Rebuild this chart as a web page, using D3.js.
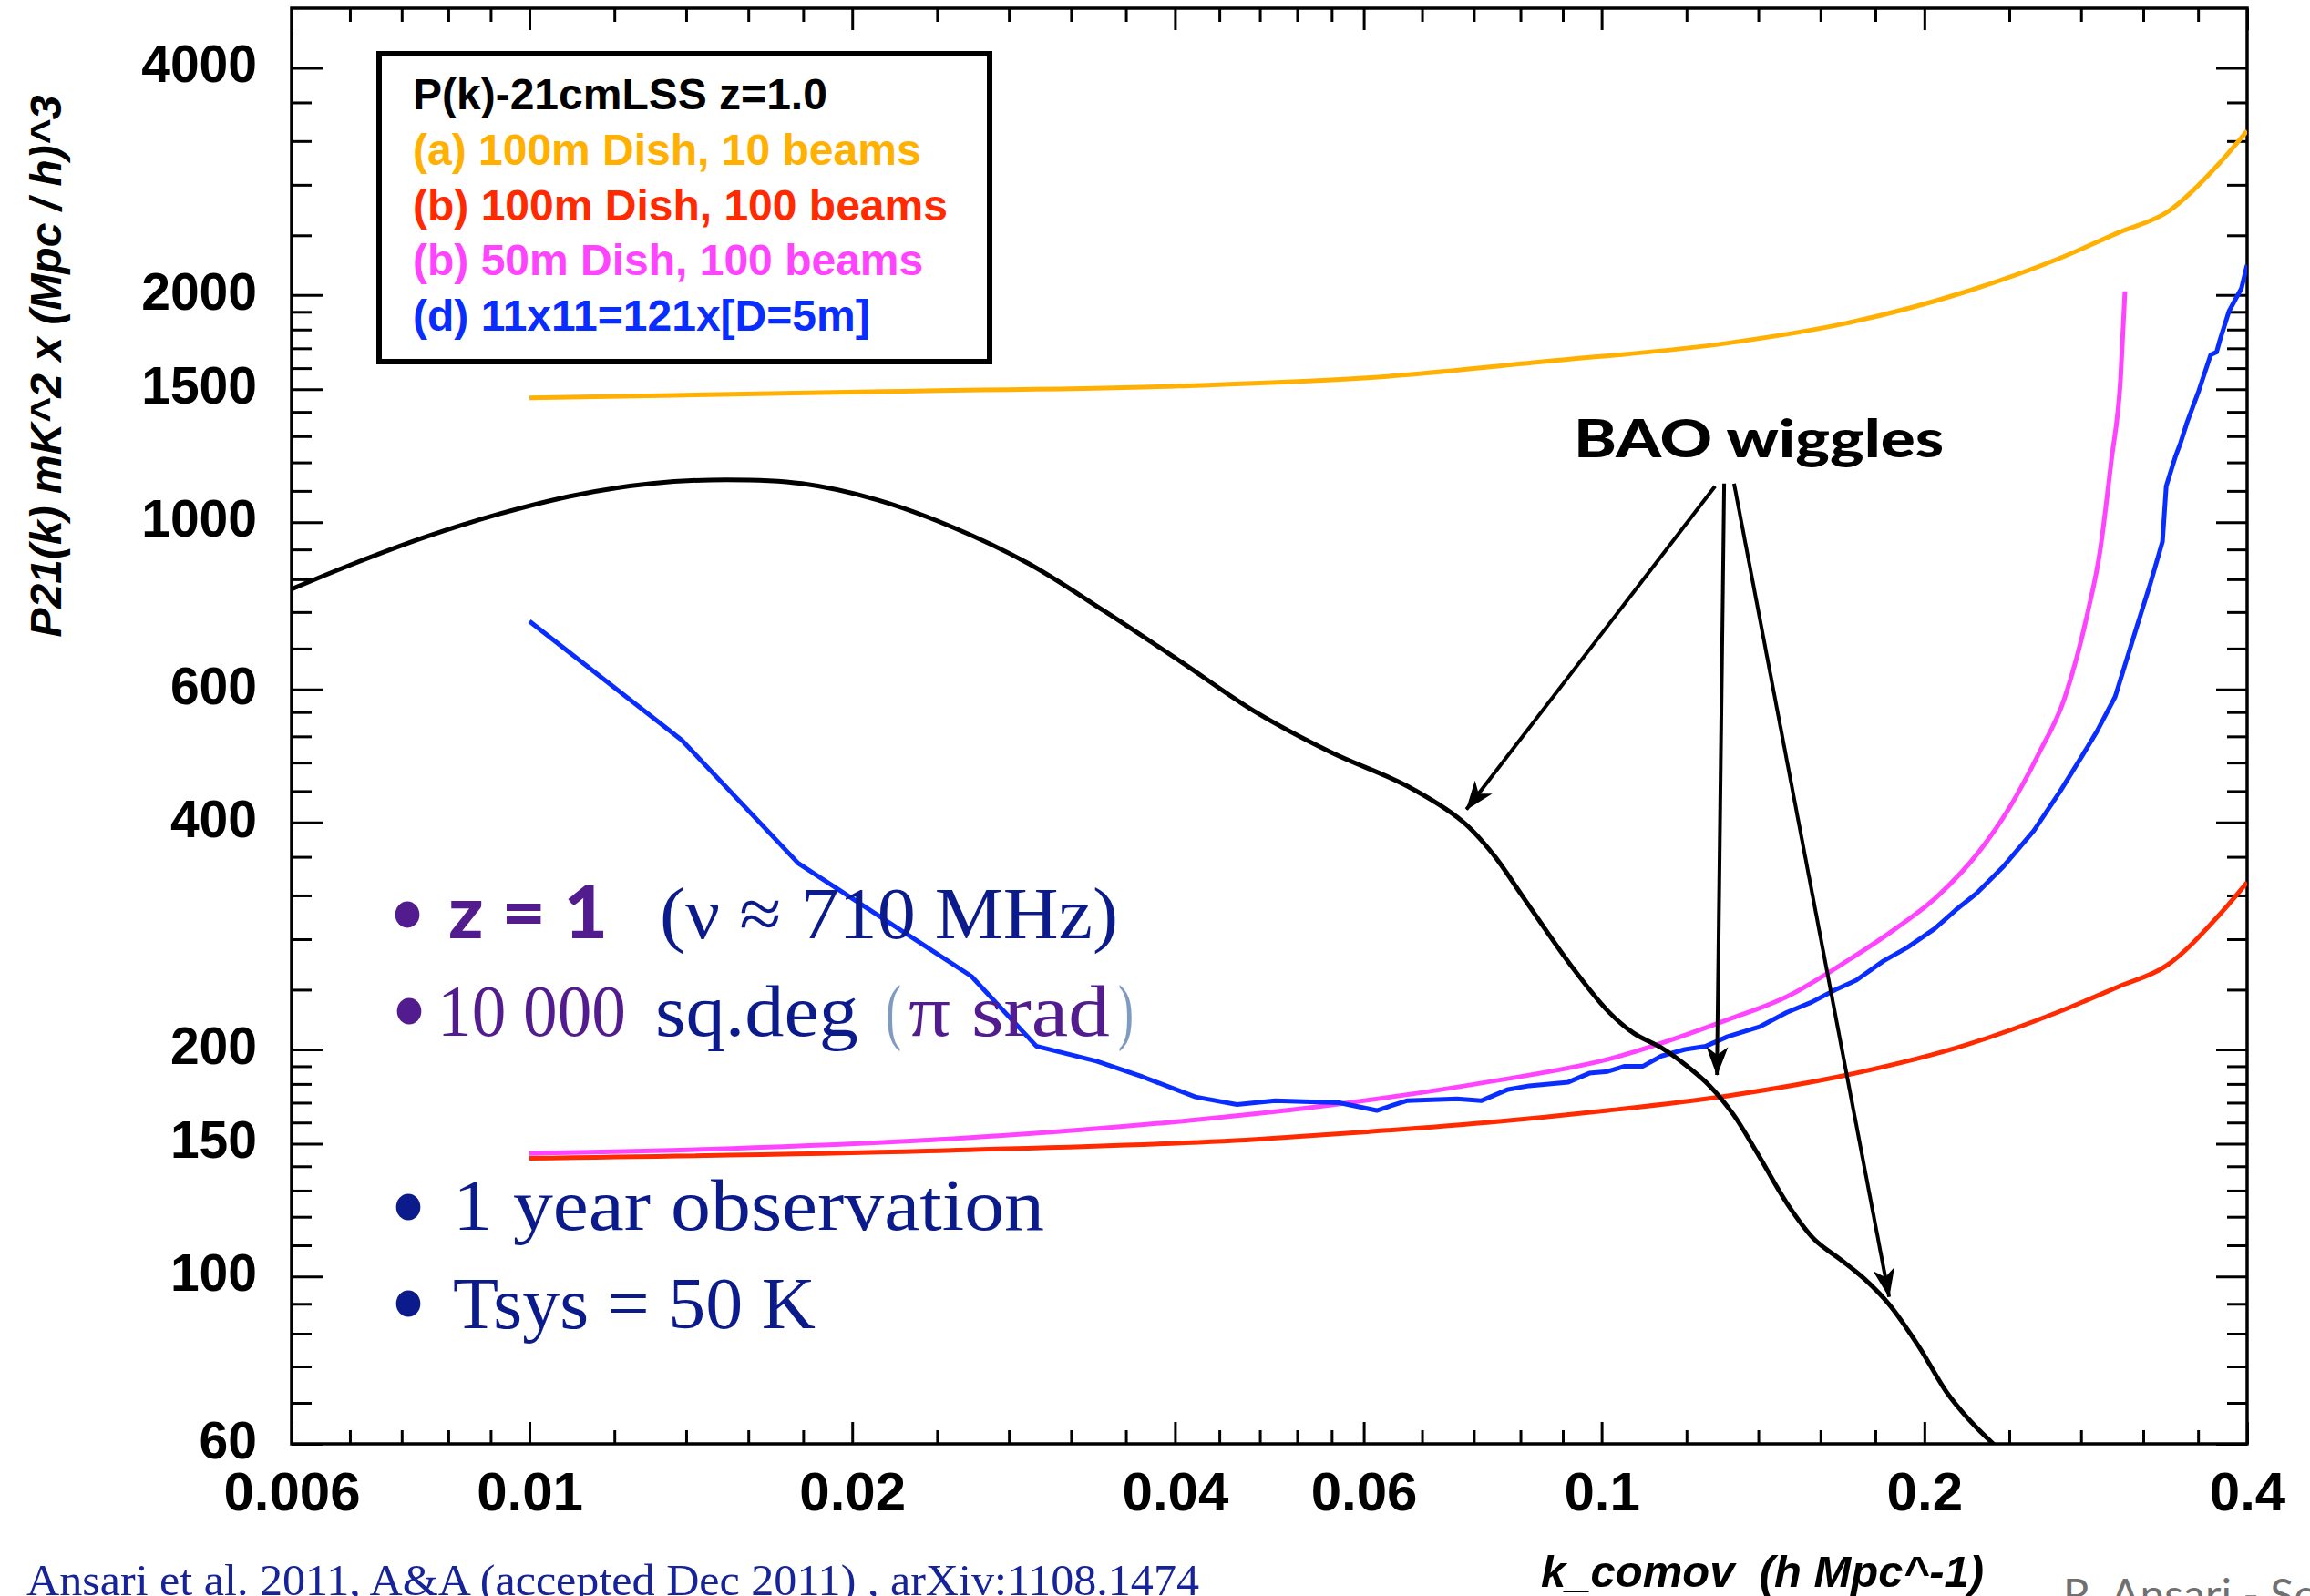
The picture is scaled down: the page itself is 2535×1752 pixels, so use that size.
<!DOCTYPE html>
<html>
<head>
<meta charset="utf-8">
<script src="https://cdn.jsdelivr.net/npm/d3@7"></script>
<style>
  html, body { margin: 0; padding: 0; background: #ffffff; }
  svg { display: block; }
</style>
</head>
<body>
<svg id="chart" width="2535" height="1752"></svg>
<script>
// ---------------- DATA ----------------
// Theory P(k) (black curve)
const theoryK = [0.006, 0.00679, 0.00799, 0.00939, 0.01105, 0.0130, 0.01526, 0.01795, 0.02112, 0.02484, 0.02922, 0.03438, 0.04045, 0.04757, 0.05596, 0.06583, 0.0742, 0.0792, 0.0844, 0.0937, 0.1013, 0.1072, 0.1137, 0.1196, 0.1261, 0.1327, 0.1396, 0.1489, 0.1579, 0.1675, 0.1762, 0.1857, 0.1978, 0.2097, 0.2193, 0.2313, 0.245];
const theoryP = [815, 876, 955, 1026, 1086, 1125, 1138, 1125, 1070, 984, 881, 762, 654, 560, 495, 447, 401, 363, 319, 258, 225, 210, 201, 191, 179, 164, 146, 125, 112, 105, 99, 91.6, 80.6, 70.3, 65, 60.2, 56];

// (a) 100m Dish, 10 beams (orange)
const dishA_K = [0.01, 0.0214, 0.0404, 0.0604, 0.089, 0.1311, 0.1694, 0.2193, 0.2662, 0.303, 0.338, 0.3772, 0.4];
const dishA_P = [1461, 1490, 1515, 1553, 1634, 1727, 1836, 2023, 2231, 2418, 2584, 2994, 3301];

// (b) 100m Dish, 100 beams (red)
const dishB_K = [0.01, 0.0248, 0.0476, 0.0604, 0.0782, 0.1013, 0.1311, 0.1694, 0.2193, 0.2662, 0.303, 0.336, 0.3772, 0.4];
const dishB_P = [143.5, 147, 152, 155.5, 160, 166, 173.6, 185, 203, 224, 242, 258, 302, 333];

// (b) 50m Dish, 100 beams (magenta)
const dishC_K = [0.01, 0.01526, 0.02484, 0.04045, 0.05596, 0.0782, 0.1013, 0.1311, 0.1489, 0.1694, 0.1879, 0.2056, 0.225, 0.240, 0.256, 0.270, 0.2841, 0.2914, 0.2989, 0.3048, 0.3077];
const dishC_P = [145.6, 147.7, 152.3, 160.6, 168.8, 181, 194, 219, 235, 262, 289, 319, 366, 418, 495, 582, 760, 908, 1210, 1549, 2023];

// (d) 11x11=121x[D=5m] (blue)
const arrayD_K = [0.01, 0.01387, 0.01781, 0.02584, 0.0297, 0.0338, 0.0373, 0.0418, 0.0457, 0.0496, 0.0569, 0.0617, 0.0658, 0.0733, 0.0772, 0.0818, 0.0856, 0.0931, 0.0974, 0.1013, 0.1051, 0.1093, 0.1137, 0.1196, 0.1251, 0.1311, 0.1406, 0.1489, 0.157, 0.1652, 0.1728, 0.1832, 0.1928, 0.2044, 0.2139, 0.2237, 0.2372, 0.253, 0.2678, 0.2802, 0.2897, 0.3013, 0.3151, 0.3251, 0.3335, 0.3362, 0.3428, 0.3468, 0.3516, 0.3606, 0.3699, 0.3746, 0.3772, 0.3847, 0.390, 0.3951, 0.4];
const arrayD_P = [739, 514, 353, 250, 202, 193, 184, 173, 169, 171, 170, 166, 171, 172, 171, 177, 179, 181, 186, 187, 190, 190, 196, 200, 202, 208, 214.5, 224, 231, 240, 247, 262, 273, 289, 306, 322, 350, 390, 440, 488, 528, 587, 721, 831, 942, 1116, 1220, 1275, 1356, 1494, 1666, 1680, 1741, 1903, 1973, 2040, 2193];

// Axis ticks
const xMajorTicks = [0.006, 0.01, 0.02, 0.04, 0.06, 0.1, 0.2, 0.4];
const xTickLabels = ["0.006", "0.01", "0.02", "0.04", "0.06", "0.1", "0.2", "0.4"];
const xMinorTicks = [0.0068, 0.0076, 0.0084, 0.0092, 0.012, 0.014, 0.016, 0.018, 0.024, 0.028, 0.032, 0.036, 0.044, 0.048, 0.052, 0.056, 0.068, 0.076, 0.084, 0.092, 0.12, 0.14, 0.16, 0.18, 0.24, 0.28, 0.32, 0.36];
const yMajorTicks = [60, 100, 150, 200, 400, 600, 1000, 1500, 2000, 4000];
const yTickLabels = ["60", "100", "150", "200", "400", "600", "1000", "1500", "2000", "4000"];
const yMinorTicks = [68, 76, 84, 92, 110, 120, 130, 140, 160, 170, 180, 190, 240, 280, 320, 360, 440, 480, 520, 560, 680, 760, 840, 920, 1100, 1200, 1300, 1400, 1600, 1700, 1800, 1900, 2400, 2800, 3200, 3600];

// Legend entries
const legendTitle = "P(k)-21cmLSS z=1.0";
const legendLabels = ["(a) 100m Dish, 10 beams", "(b) 100m Dish, 100 beams", "(b) 50m Dish, 100 beams", "(d) 11x11=121x[D=5m]"];

// Annotation arrows (data coordinates)
const arrowFromK = [0.1276, 0.1301, 0.1329];
const arrowFromP = [1116, 1125, 1125];
const arrowToK = [0.0748, 0.1281, 0.1854];
const arrowToP = [416, 185, 94];

// ---------------- LAYOUT ----------------
const W = 2535, H = 1752;
const L = 320, R = 2466, T = 9, B = 1585;
const colors = { theory: "#000000", a: "#ffb000", b: "#ff2a00", c: "#ff44ff", d: "#0a2dff" };
const purple = "#521c8f", navy = "#0c1b8c", lightBlue = "#7f9bc2";

const svg = d3.select("#chart");
svg.append("rect").attr("width", W).attr("height", H).attr("fill", "#ffffff");

const x = d3.scaleLog().domain([0.006, 0.4]).range([L, R]);
const y = d3.scaleLog().domain([60, 4800]).range([B, T]);

const defs = svg.append("defs");
defs.append("clipPath").attr("id", "plotClip")
  .append("rect").attr("x", L).attr("y", T).attr("width", R - L).attr("height", B - T);
defs.append("marker").attr("id", "arrowHead")
  .attr("viewBox", "0 0 32 24").attr("refX", 31).attr("refY", 12)
  .attr("markerWidth", 32).attr("markerHeight", 24)
  .attr("markerUnits", "userSpaceOnUse").attr("orient", "auto")
  .append("path").attr("d", "M0,0 L32,12 L0,24 L9,12 Z").attr("fill", "#000");

// ---------------- AXES ----------------
const tickFont = "'Liberation Sans', Arial, Helvetica, sans-serif";
function styleAxis(g) {
  g.select(".domain").remove();
  g.selectAll(".tick line").attr("stroke", "#000").attr("stroke-width", 3);
  g.selectAll(".tick text").attr("fill", "#000").attr("font-family", tickFont).attr("font-weight", "bold");
}
// bottom
svg.append("g").attr("transform", `translate(0,${B})`)
  .call(d3.axisBottom(x).tickValues(xMajorTicks).tickSize(-24).tickPadding(30)
    .tickFormat((d, i) => xTickLabels[i]))
  .call(styleAxis)
  .call(g => g.selectAll(".tick text").attr("font-size", 60));
svg.append("g").attr("transform", `translate(0,${B})`)
  .call(d3.axisBottom(x).tickValues(xMinorTicks).tickSize(-15).tickFormat(""))
  .call(styleAxis);
// top
svg.append("g").attr("transform", `translate(0,${T})`)
  .call(d3.axisTop(x).tickValues(xMajorTicks).tickSize(-24).tickFormat(""))
  .call(styleAxis);
svg.append("g").attr("transform", `translate(0,${T})`)
  .call(d3.axisTop(x).tickValues(xMinorTicks).tickSize(-15).tickFormat(""))
  .call(styleAxis);
// left
svg.append("g").attr("transform", `translate(${L},0)`)
  .call(d3.axisLeft(y).tickValues(yMajorTicks).tickSize(-34).tickPadding(38)
    .tickFormat((d, i) => yTickLabels[i]))
  .call(styleAxis)
  .call(g => g.selectAll(".tick text").attr("font-size", 57).attr("dy", "0.27em"));
svg.append("g").attr("transform", `translate(${L},0)`)
  .call(d3.axisLeft(y).tickValues(yMinorTicks).tickSize(-22).tickFormat(""))
  .call(styleAxis);
// right
svg.append("g").attr("transform", `translate(${R},0)`)
  .call(d3.axisRight(y).tickValues(yMajorTicks).tickSize(-34).tickFormat(""))
  .call(styleAxis);
svg.append("g").attr("transform", `translate(${R},0)`)
  .call(d3.axisRight(y).tickValues(yMinorTicks).tickSize(-22).tickFormat(""))
  .call(styleAxis);

// frame
svg.append("rect").attr("x", L).attr("y", T).attr("width", R - L).attr("height", B - T)
  .attr("fill", "none").attr("stroke", "#000").attr("stroke-width", 3.5);

// ---------------- CURVES ----------------
const plot = svg.append("g").attr("clip-path", "url(#plotClip)");
function drawCurve(ks, ps, color, curve, width) {
  const pts = ks.map((k, i) => [k, ps[i]]);
  const line = d3.line().x(d => x(d[0])).y(d => y(d[1])).curve(curve);
  plot.append("path").attr("d", line(pts)).attr("fill", "none")
    .attr("stroke", color).attr("stroke-width", width)
    .attr("stroke-linejoin", "round").attr("stroke-linecap", "butt");
}
drawCurve(dishA_K, dishA_P, colors.a, d3.curveMonotoneX, 5);
drawCurve(dishB_K, dishB_P, colors.b, d3.curveMonotoneX, 5);
drawCurve(dishC_K, dishC_P, colors.c, d3.curveMonotoneX, 5);
drawCurve(arrayD_K, arrayD_P, colors.d, d3.curveLinear, 5);
drawCurve(theoryK, theoryP, colors.theory, d3.curveCatmullRom.alpha(0.5), 5);

// ---------------- ANNOTATIONS ----------------
arrowFromK.forEach((k, i) => {
  svg.append("line")
    .attr("x1", x(k)).attr("y1", y(arrowFromP[i]))
    .attr("x2", x(arrowToK[i])).attr("y2", y(arrowToP[i]))
    .attr("stroke", "#000").attr("stroke-width", 4)
    .attr("marker-end", "url(#arrowHead)");
});
svg.append("text").attr("x", x(0.0942)).attr("y", y(1220))
  .attr("font-family", "Lato, 'Open Sans', sans-serif").attr("font-weight", 900)
  .attr("font-size", 57).attr("fill", "#000")
  .attr("textLength", 406).attr("lengthAdjust", "spacingAndGlyphs")
  .text("BAO wiggles");

// ---------------- LEGEND ----------------
svg.append("rect").attr("x", 416).attr("y", 59).attr("width", 670).attr("height", 338)
  .attr("fill", "#fff").attr("stroke", "#000").attr("stroke-width", 6);
const legendColors = [colors.a, colors.b, colors.c, colors.d];
svg.append("text").attr("x", 453).attr("y", 120)
  .attr("font-family", tickFont).attr("font-weight", "bold").attr("font-size", 48)
  .attr("fill", "#000").text(legendTitle);
legendLabels.forEach((t, i) => {
  svg.append("text").attr("x", 453).attr("y", 181 + i * 60.5)
    .attr("font-family", tickFont).attr("font-weight", "bold").attr("font-size", 48)
    .attr("fill", legendColors[i]).text(t);
});

// ---------------- BULLET TEXT ----------------
const serif = "'Liberation Serif', 'Times New Roman', serif";
function txt(str, x0, y0, len, color, opts = {}) {
  const t = svg.append("text").attr("x", x0).attr("y", y0)
    .attr("font-family", opts.family || serif)
    .attr("font-size", opts.size || 80)
    .attr("font-weight", opts.weight || "normal")
    .attr("fill", color)
    .style("white-space", "pre")
    .text(str);
  if (len) t.attr("textLength", len).attr("lengthAdjust", "spacingAndGlyphs");
  return t;
}
function bullet(cx, cy, r, color) {
  svg.append("ellipse").attr("cx", cx).attr("cy", cy).attr("rx", r * 0.92).attr("ry", r).attr("fill", color);
}
// line 1
bullet(447, 1004, 14.5, purple);
txt("z = 1", 492, 1030, 175, purple, { family: "Lato, 'Open Sans', sans-serif", weight: 900, size: 80 });
txt("(ν ≈ 710 MHz)", 724, 1030, 503, navy);
// line 2
bullet(449, 1110, 14.5, purple);
txt("10 000", 480, 1137, 207, purple);
txt("sq.deg", 719, 1137, 223, navy);
txt("(", 972, 1137, 17, lightBlue);
txt("π srad", 997, 1137, 221, purple);
txt(")", 1227, 1137, 17, lightBlue);
// line 3
bullet(448, 1325, 14.5, navy);
txt("1 year observation", 497, 1350, 649, navy);
// line 4
bullet(448, 1431, 14.5, navy);
txt("Tsys = 50 K", 497, 1458, 398, navy);

// ---------------- AXIS TITLES & FOOTER ----------------
svg.append("text")
  .attr("transform", "translate(67,402) rotate(-90)")
  .attr("text-anchor", "middle")
  .attr("font-family", tickFont).attr("font-weight", "bold").attr("font-style", "italic")
  .attr("font-size", 48).attr("fill", "#000")
  .text("P21(k) mK^2 x (Mpc / h)^3");

svg.append("text").attr("x", 1934).attr("y", 1742)
  .attr("text-anchor", "middle")
  .attr("font-family", tickFont).attr("font-weight", "bold").attr("font-style", "italic")
  .attr("font-size", 49).attr("fill", "#000")
  .style("white-space", "pre")
  .text("k_comov  (h Mpc^-1)");

txt("Ansari et al. 2011, A&A (accepted Dec 2011) , arXiv:1108.1474", 29, 1751, 1287, "#16239a", { size: 48 });

svg.append("text").attr("x", 2264).attr("y", 1768)
  .attr("font-family", "Lato, 'Open Sans', sans-serif").attr("font-weight", 400)
  .attr("font-size", 48).attr("fill", "#707070")
  .text("R. Ansari - Seminar");
</script>
</body>
</html>
